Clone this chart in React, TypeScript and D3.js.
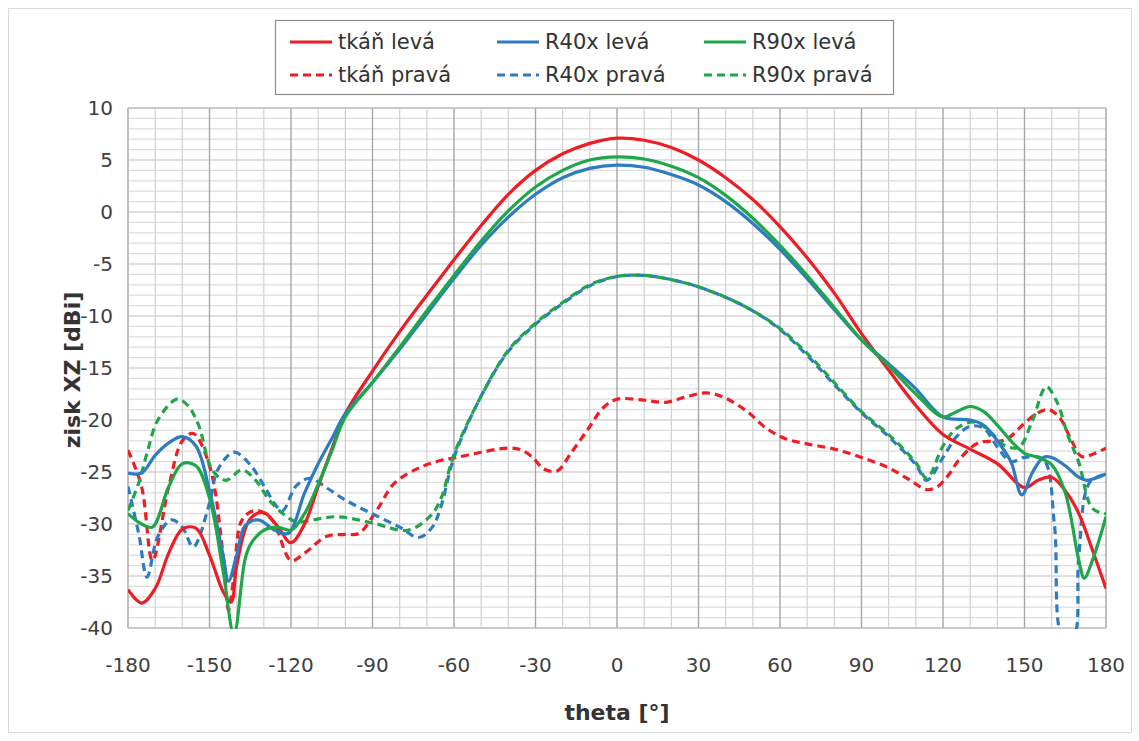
import React from 'react';
import * as d3 from 'd3';

type Pt = [number, number];

const thetaTicks = [-180, -150, -120, -90, -60, -30, 0, 30, 60, 90, 120, 150, 180];
const gainTicks = [10, 5, 0, -5, -10, -15, -20, -25, -30, -35, -40];

const tkanLeva: Pt[] = [
  [-180, -36.3], [-175, -37.6], [-170, -36.2], [-165, -32.8], [-160, -30.5], [-155, -30.4],
  [-150, -33], [-145, -36.5], [-142, -37.5], [-140, -34], [-135, -29.5], [-130, -28.9],
  [-125, -30.2], [-120, -31.8], [-115, -30], [-110, -26.4], [-105, -22.8], [-100, -19.4],
  [-90, -15.3], [-80, -11.5], [-70, -8.0], [-60, -4.6], [-50, -1.3], [-40, 1.7], [-30, 4.0],
  [-20, 5.6], [-10, 6.6], [0, 7.1], [10, 6.9], [20, 6.2], [30, 5.0], [40, 3.3], [50, 1.2],
  [60, -1.4], [70, -4.4], [80, -7.8], [90, -11.7], [100, -15.2], [110, -18.6], [120, -21.4],
  [130, -22.8], [140, -24.2], [150, -26.5], [155, -25.8], [160, -25.5], [165, -26.8],
  [170, -29], [175, -32.5], [180, -36.2],
];

const r40Leva: Pt[] = [
  [-180, -25.1], [-175, -25.1], [-170, -23.4], [-165, -22.2], [-160, -21.6], [-155, -22.5],
  [-150, -26.8], [-145, -33], [-143, -35.5], [-140, -33], [-137, -30.2], [-132, -29.6],
  [-126, -30.6], [-121, -30.9], [-115, -27], [-110, -24.2], [-105, -21.8], [-100, -19.4],
  [-90, -16.4], [-80, -13.2], [-70, -9.8], [-60, -6.4], [-50, -3.2], [-40, -0.5], [-30, 1.7],
  [-20, 3.3], [-10, 4.2], [0, 4.5], [10, 4.3], [20, 3.6], [30, 2.6], [40, 1.0], [50, -1.1],
  [60, -3.6], [70, -6.4], [80, -9.4], [90, -12.3], [100, -14.6], [110, -17], [120, -19.7],
  [130, -20], [135, -20.5], [140, -22], [145, -24], [149, -27.2], [153, -25], [157, -23.6],
  [160, -23.6], [165, -24.4], [170, -25.5], [173, -25.8], [180, -25.2],
];

const r90Leva: Pt[] = [
  [-180, -29], [-175, -30], [-171, -30.3], [-165, -26.4], [-160, -24.2], [-155, -24.4],
  [-150, -27.5], [-145, -34.5], [-141, -40.6], [-137, -33.5], [-135, -32], [-130, -30.6],
  [-125, -30.3], [-120, -30.6], [-115, -29], [-110, -26.2], [-105, -23], [-100, -19.7],
  [-90, -16.4], [-80, -13.0], [-70, -9.5], [-60, -6.1], [-50, -2.8], [-40, 0.1], [-30, 2.4],
  [-20, 4.0], [-10, 5.0], [0, 5.3], [10, 5.1], [20, 4.4], [30, 3.3], [40, 1.6], [50, -0.6],
  [60, -3.2], [70, -6.1], [80, -9.2], [90, -12.3], [100, -14.8], [110, -17.5], [120, -19.7],
  [125, -19.2], [130, -18.7], [135, -19.2], [140, -20.5], [145, -22], [150, -23.2],
  [155, -23.6], [160, -24.3], [165, -27], [170, -33.5], [172, -35.2], [175, -33.5], [180, -29.3],
];

const tkanPrava: Pt[] = [
  [-180, -22.9], [-175, -26.4], [-171, -33.5], [-165, -26.4], [-160, -22], [-156, -21.3],
  [-150, -24.4], [-145, -33], [-143, -38.3], [-141, -35], [-138, -29.6], [-133, -28.7],
  [-127, -29.6], [-120, -33.5], [-115, -32.8], [-107, -31.2], [-100, -31], [-95, -30.9],
  [-88, -28.5], [-82, -26.1], [-72, -24.5], [-65, -23.9], [-59, -23.6], [-50, -23.1],
  [-40, -22.7], [-35, -22.9], [-31, -23.6], [-27, -24.7], [-22, -24.9], [-17, -23.2],
  [-11, -21], [-5, -18.8], [0, -18], [10, -18.1], [18, -18.3], [25, -17.8], [33, -17.4],
  [40, -17.9], [48, -19.2], [55, -20.8], [62, -21.8], [70, -22.3], [80, -22.8], [90, -23.6],
  [100, -24.6], [108, -25.8], [114, -26.7], [118, -26.4], [122, -25.3], [126, -23.8],
  [133, -22.2], [143, -21.9], [150, -20.3], [155, -19.3], [159, -19], [163, -19.8],
  [167, -21.8], [171, -23.5], [176, -23.2], [180, -22.7],
];

const r40Prava: Pt[] = [
  [-180, -26.4], [-176, -31], [-173, -35.1], [-169, -31.2], [-164, -29.6], [-160, -30.3],
  [-156, -32.2], [-150, -28], [-147, -24.8], [-141, -23.1], [-135, -24.3], [-130, -26.3],
  [-125, -28.4], [-123, -28.7], [-118, -26.3], [-113, -25.6], [-107, -26.5], [-100, -27.7],
  [-91, -28.9], [-80, -30.3], [-73, -31.3], [-68, -30.3], [-65, -28.5], [-60, -23.6],
  [-50, -17.7], [-40, -13.4], [-30, -10.8], [-20, -8.8], [-10, -7.1], [0, -6.2], [10, -6.1],
  [20, -6.5], [30, -7.2], [40, -8.2], [50, -9.5], [60, -11.3], [70, -13.8], [80, -16.6],
  [90, -19.3], [100, -21.6], [110, -24.3], [114, -25.8], [120, -23.6], [125, -21.6],
  [130, -20.6], [135, -20.8], [140, -22.6], [145, -24], [150, -23.6], [157, -23.8],
  [161, -30], [164, -40.8], [168, -40.8], [170, -33], [174, -26], [180, -25.2],
];

const r90Prava: Pt[] = [
  [-180, -28.7], [-176, -26], [-173, -23.2], [-169, -20], [-162, -18], [-158, -18.6],
  [-154, -20.5], [-149, -24.8], [-144, -25.8], [-138, -24.8], [-133, -25.8], [-128, -27.7],
  [-123, -29], [-118, -29.8], [-112, -29.6], [-103, -29.3], [-90, -29.9], [-77, -30.6],
  [-69, -29.3], [-65, -27.7], [-60, -23.3], [-50, -17.7], [-40, -13.3], [-30, -10.7],
  [-20, -8.7], [-10, -7.0], [0, -6.2], [10, -6.1], [20, -6.5], [30, -7.2], [40, -8.2],
  [50, -9.5], [60, -11.2], [70, -13.6], [80, -16.4], [90, -19.2], [100, -21.4], [110, -24.1],
  [114, -25.6], [120, -22.5], [125, -20.8], [132, -20.2], [138, -21.3], [143, -22.5],
  [148, -22.6], [153, -20], [158, -16.8], [162, -18.3], [166, -21.5], [170, -24.1],
  [175, -28.5], [180, -29],
];

const RED = '#ee1c25';
const BLUE = '#2e7cc0';
const GREEN = '#1fa64a';

const seriesNames = ['tkáň levá', 'R40x levá', 'R90x levá', 'tkáň pravá', 'R40x pravá', 'R90x pravá'];
const seriesData = [tkanLeva, r40Leva, r90Leva, tkanPrava, r40Prava, r90Prava];
const seriesColors = [RED, BLUE, GREEN, RED, BLUE, GREEN];
const seriesDashed = [false, false, false, true, true, true];

export default function App() {
  const W = 1139;
  const H = 741;
  const left = 128, right = 1106, top = 108, bottom = 628;
  const x = d3.scaleLinear().domain([-180, 180]).range([left, right]);
  const y = d3.scaleLinear().domain([-40, 10]).range([bottom, top]);
  const line = d3
    .line<Pt>()
    .x((d) => x(d[0]))
    .y((d) => y(d[1]))
    .curve(d3.curveCatmullRom.alpha(0.5));

  const minorX = d3.range(-180, 181, 10);
  const minorY = d3.range(-40, 11, 1);
  const font = '"DejaVu Sans", Verdana, sans-serif';

  const order = [3, 4, 5, 0, 1, 2];

  const legendCols = [290, 497, 704];
  const legendRows = [42, 75];

  return (
    <svg
      width={W}
      height={H}
      style={{ position: 'absolute', left: 0, top: 0, background: '#fff' }}
      fontFamily={font}
    >
      <rect x={0} y={0} width={W} height={H} fill="#fff" />
      <rect x={8.5} y={8.5} width={1123} height={724} fill="none" stroke="#d9d9d9" strokeWidth={1} />
      <defs>
        <clipPath id="plotclip">
          <rect x={left} y={top - 2} width={right - left} height={bottom - top + 3} />
        </clipPath>
      </defs>
      {minorY.map((v) => (
        <line key={'hy' + v} x1={left} x2={right} y1={y(v)} y2={y(v)}
          stroke={v % 5 === 0 ? '#bfbfbf' : '#dcdcdc'} strokeWidth={1.2} />
      ))}
      {minorX.map((t) => (
        <line key={'vx' + t} x1={x(t)} x2={x(t)} y1={top} y2={bottom}
          stroke={t % 30 === 0 ? '#a6a6a6' : '#d0d0d0'} strokeWidth={t % 30 === 0 ? 1.4 : 1.2} />
      ))}
      <rect x={left} y={top} width={right - left} height={bottom - top} fill="none" stroke="#bfbfbf" strokeWidth={1.2} />

      <g clipPath="url(#plotclip)">
        {order.map((i) => (
          <path key={'s' + i} d={line(seriesData[i]) || ''} fill="none" stroke={seriesColors[i]}
            strokeWidth={3.2} strokeDasharray={seriesDashed[i] ? '8,5' : undefined}
            strokeLinejoin="round" />
        ))}
      </g>

      {gainTicks.map((v) => (
        <text key={'yt' + v} x={113} y={y(v)} textAnchor="end" dominantBaseline="central"
          fontSize={20} fill="#404040">{v}</text>
      ))}
      {thetaTicks.map((t) => (
        <text key={'xt' + t} x={x(t)} y={665} textAnchor="middle" dominantBaseline="central"
          fontSize={20} fill="#404040">{t}</text>
      ))}
      <text x={617} y={712} textAnchor="middle" dominantBaseline="central" fontSize={22}
        fontWeight="bold" fill="#333">theta [°]</text>
      <text transform={`translate(72,370) rotate(-90)`} textAnchor="middle" dominantBaseline="central"
        fontSize={22} fontWeight="bold" fill="#333">zisk XZ [dBi]</text>

      <rect x={275.5} y={20.5} width={618} height={74} fill="#fff" stroke="#8c8c8c" strokeWidth={1.2} />
      {seriesNames.map((name, i) => {
        const cx = legendCols[i % 3];
        const cy = legendRows[Math.floor(i / 3)];
        return (
          <g key={'lg' + i}>
            <line x1={cx} x2={cx + 42} y1={cy} y2={cy} stroke={seriesColors[i]} strokeWidth={3.2}
              strokeDasharray={seriesDashed[i] ? '8,5' : undefined} />
            <text x={cx + 48} y={cy} dominantBaseline="central" fontSize={21} fill="#333">{name}</text>
          </g>
        );
      })}
    </svg>
  );
}
